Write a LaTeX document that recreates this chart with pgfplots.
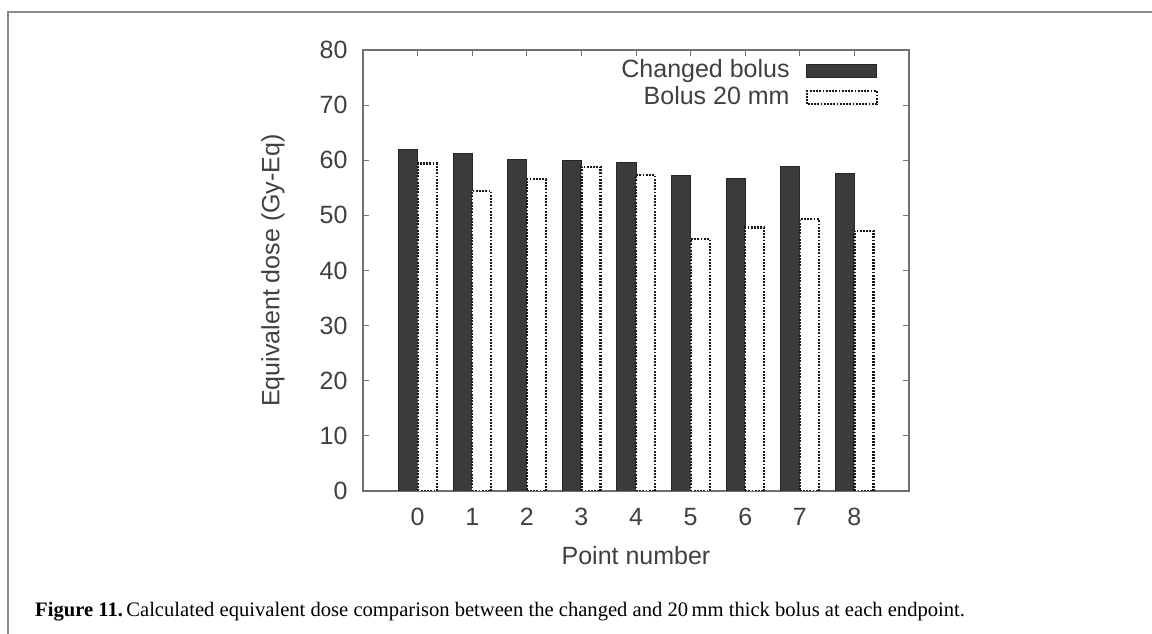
\documentclass[border=0pt]{standalone}
\usepackage{pgfplots}
\pgfplotsset{compat=1.18}
\usepackage{fontspec}
\setmainfont{Liberation Sans}
\newfontfamily\capfont{Liberation Serif}
\definecolor{txt}{HTML}{404040}
\definecolor{axgray}{HTML}{707070}
\definecolor{barfill}{HTML}{3B3B3B}
\definecolor{framegray}{HTML}{8A8A8A}
\pgfplotsset{
  mylegend/.style={legend image code/.code={\draw[##1] (0pt,-6.5pt) rectangle (70pt,6.5pt);}}
}
\begin{document}
\begin{tikzpicture}
\path[use as bounding box] (0,0) rectangle (1152pt,634pt);
\draw[framegray, line width=1.2pt] (8pt,0pt) -- (8pt,622pt) -- (1152pt,622pt);
\begin{axis}[
  at={(363pt,143pt)}, anchor=south west,
  scale only axis, width=546pt, height=441pt,
  xmin=-1, xmax=9, ymin=0, ymax=80,
  xtick={0,1,...,8}, ytick={0,10,...,80},
  ybar=0pt, bar width=0.35,
  tick align=inside, major tick length=6pt,
  axis line style={draw=axgray, line width=1.4pt},
  every tick/.style={axgray, line width=1pt},
  /pgf/number format/assume math mode=true,
  tick label style={font=\fontsize{25}{30}\selectfont, text=txt},
  yticklabel style={xshift=-12pt},
  xticklabel style={yshift=-14pt},
  xlabel={Point number},
  ylabel={Equivalent dose (Gy-Eq)},
  every axis x label/.style={at={(axis description cs:0.5,-0.147)}, anchor=center, font=\fontsize{25}{30}\selectfont, text=txt},
  every axis y label/.style={at={(axis description cs:-0.165,0.5)}, rotate=90, anchor=center, font=\fontsize{25}{30}\selectfont, text=txt},
  legend style={draw=none, fill=none, at={(axis description cs:1,1)}, anchor=north east,
    xshift=-28pt, yshift=-7pt, font=\fontsize{25}{30}\selectfont, text=txt,
    nodes={inner sep=0pt, text height=18pt, text depth=5pt},
    /tikz/column sep=16pt, /tikz/row sep=4pt},
  legend cell align=right, legend plot pos=right,
]
\addplot[mylegend, fill=barfill, draw=black!85, line width=0.8pt]
  coordinates {(0,61.9) (1,61.3) (2,60.2) (3,60.0) (4,59.6) (5,57.2) (6,56.7) (7,58.8) (8,57.6)};
\addplot[mylegend, fill=white, draw=black!90, line width=2.2pt, dash pattern=on 1.8pt off 1.4pt]
  coordinates {(0,59.4) (1,54.4) (2,56.6) (3,58.8) (4,57.3) (5,45.7) (6,47.8) (7,49.3) (8,47.2)};
\legend{Changed bolus, Bolus 20 mm}
\end{axis}
\node[anchor=base west, inner sep=0pt, font=\capfont\fontsize{20.6}{24}\selectfont] at (35pt,17pt)
  {\textbf{Figure 11.}\,Calculated equivalent dose comparison between the changed and 20\,mm thick bolus at each endpoint.};
\end{tikzpicture}
\end{document}
